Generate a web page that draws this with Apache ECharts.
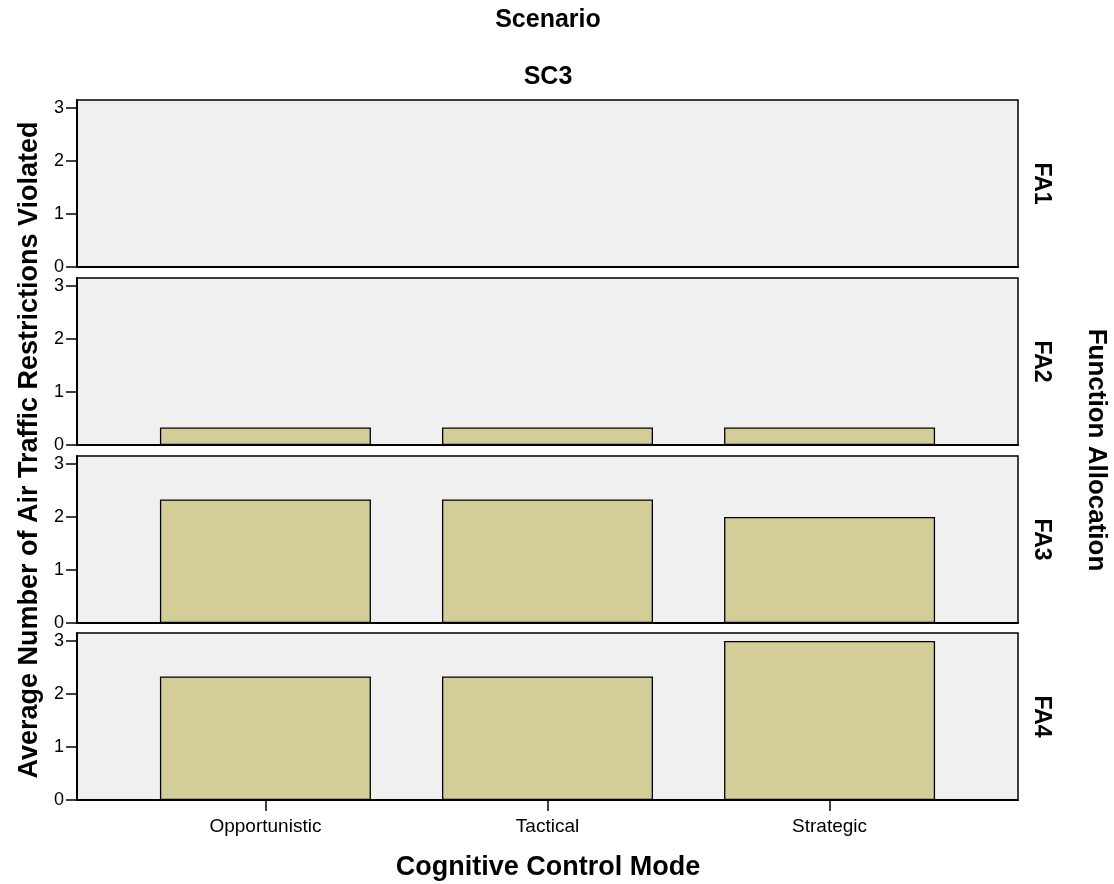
<!DOCTYPE html>
<html>
<head>
<meta charset="utf-8">
<script src="https://cdn.jsdelivr.net/npm/echarts@6/dist/echarts.min.js"></script>
<style>
  html, body { margin: 0; padding: 0; background: #fff; }
  #chart { width: 1114px; height: 884px; }
</style>
</head>
<body>
<div id="chart"></div>
<script>
var FONT = 'Arial, "Liberation Sans", sans-serif';

// data
var categories = ['Opportunistic', 'Tactical', 'Strategic'];
var panelNames = ['FA1', 'FA2', 'FA3', 'FA4'];
var fa1 = [0, 0, 0];
var fa2 = [0.33, 0.33, 0.33];
var fa3 = [2.33, 2.33, 2.0];
var fa4 = [2.33, 2.33, 3.0];
var yTicks = [0, 1, 2, 3];
var panelValues = [fa1, fa2, fa3, fa4];

var panelTops = [100, 278, 456, 633];
var panelHeight = 167;

var grids = [], xAxes = [], yAxes = [], series = [], graphics = [];

panelValues.forEach(function (vals, i) {
  var last = i === panelValues.length - 1;
  grids.push({
    left: 77, right: 96, top: panelTops[i], height: panelHeight,
    show: true, backgroundColor: '#f0f0f0',
    borderColor: '#000', borderWidth: 1.5
  });
  xAxes.push({
    type: 'value', gridIndex: i,
    min: -0.668, max: 2.668,
    splitLine: { show: false },
    axisLine: { show: true, onZero: false, lineStyle: { color: '#000', width: 2 } },
    axisTick: {
      show: last, customValues: [0, 1, 2], length: 11,
      lineStyle: { color: '#000', width: 1.5 }
    },
    axisLabel: {
      show: last, customValues: [0, 1, 2], margin: 17,
      color: '#000', fontSize: 19, fontFamily: FONT,
      formatter: function (v) { return categories[Math.round(v)] || ''; }
    }
  });
  yAxes.push({
    type: 'value', gridIndex: i,
    min: 0, max: 3.15,
    splitLine: { show: false },
    axisLine: { show: true, onZero: false, lineStyle: { color: '#000', width: 2 } },
    axisTick: { show: true, customValues: yTicks, length: 11, lineStyle: { color: '#000', width: 1.5 } },
    axisLabel: {
      customValues: yTicks, margin: 13,
      color: '#000', fontSize: 18, fontFamily: FONT
    }
  });
  series.push({
    type: 'bar', name: panelNames[i],
    xAxisIndex: i, yAxisIndex: i,
    barWidth: 211,
    silent: true,
    itemStyle: { color: '#d3ce97', borderColor: '#000', borderWidth: 1.3 },
    data: vals.map(function (v, k) { return [k, v]; })
  });
  graphics.push({
    type: 'text', x: 1041, y: panelTops[i] + panelHeight / 2,
    rotation: -Math.PI / 2,
    style: {
      text: panelNames[i], fill: '#000', font: 'bold 23px ' + FONT,
      align: 'center', verticalAlign: 'middle'
    }
  });
});

graphics.push({
  type: 'text', x: 548, y: 20,
  style: { text: 'Scenario', fill: '#000', font: 'bold 25px ' + FONT, align: 'center', verticalAlign: 'middle' }
});
graphics.push({
  type: 'text', x: 548, y: 77,
  style: { text: 'SC3', fill: '#000', font: 'bold 25px ' + FONT, align: 'center', verticalAlign: 'middle' }
});
graphics.push({
  type: 'text', x: 548, y: 868,
  style: { text: 'Cognitive Control Mode', fill: '#000', font: 'bold 27px ' + FONT, align: 'center', verticalAlign: 'middle' }
});
graphics.push({
  type: 'text', x: 30, y: 450, rotation: Math.PI / 2,
  style: { text: 'Average Number of Air Traffic Restrictions Violated', fill: '#000', font: 'bold 27px ' + FONT, align: 'center', verticalAlign: 'middle' }
});
graphics.push({
  type: 'text', x: 1096, y: 450, rotation: -Math.PI / 2,
  style: { text: 'Function Allocation', fill: '#000', font: 'bold 26px ' + FONT, align: 'center', verticalAlign: 'middle' }
});

var myChart = echarts.init(document.getElementById('chart'));
myChart.setOption({
  animation: false,
  grid: grids,
  xAxis: xAxes,
  yAxis: yAxes,
  series: series,
  graphic: graphics
});
</script>
</body>
</html>
